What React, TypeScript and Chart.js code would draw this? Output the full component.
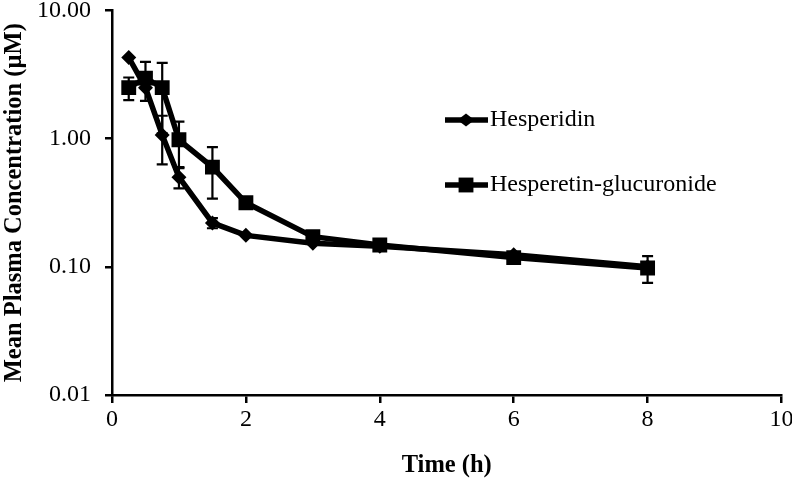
import React, { useEffect, useRef } from "react";
import { Chart, registerables } from "chart.js";

Chart.register(...registerables);

const times = [0.25, 0.5, 0.75, 1, 1.5, 2, 3, 4, 6, 8];
const hesperidin = [4.3, 2.5, 1.07, 0.5, 0.22, 0.176, 0.153, 0.145, 0.124, 0.1];
const hesperidinErr = [0, 0, 0.44, 0.09, 0.02, 0, 0, 0, 0, 0];
const glucuronide = [2.5, 2.97, 2.5, 0.98, 0.6, 0.316, 0.172, 0.148, 0.118, 0.098];
const glucuronideErr = [0.5, 1.0, 1.4, 0.38, 0.26, 0.02, 0.01, 0.01, 0.01, 0.023];
const yTicks = [0.01, 0.1, 1, 10];
const seriesNames = ["Hesperidin", "Hesperetin-glucuronide"];
const xTitle = "Time (h)";
const yTitle = "Mean Plasma Concentration (\u00b5M)";

const SERIF = '"Times New Roman", "Liberation Serif", serif';

const errorBarPlugin = {
  id: "errorBars",
  beforeDatasetsDraw(chart: any) {
    const { ctx } = chart;
    const x = chart.scales.x;
    const y = chart.scales.y;
    const errs = [hesperidinErr, glucuronideErr];
    const vals = [hesperidin, glucuronide];
    ctx.save();
    ctx.strokeStyle = "#000";
    ctx.lineWidth = 2.2;
    errs.forEach((err, di) => {
      err.forEach((e, i) => {
        if (!e) return;
        const px = x.getPixelForValue(times[i]);
        const top = y.getPixelForValue(vals[di][i] + e);
        const bot = y.getPixelForValue(Math.max(vals[di][i] - e, 0.0101));
        ctx.beginPath();
        ctx.moveTo(px, top);
        ctx.lineTo(px, bot);
        ctx.moveTo(px - 5.5, top);
        ctx.lineTo(px + 5.5, top);
        ctx.moveTo(px - 5.5, bot);
        ctx.lineTo(px + 5.5, bot);
        ctx.stroke();
      });
    });
    ctx.restore();
  },
};

const legendPlugin = {
  id: "customLegend",
  afterDraw(chart: any) {
    const { ctx } = chart;
    const rows = [
      { y: 120, style: "rectRot", r: 7.5 },
      { y: 185, style: "rect", r: 10.5 },
    ];
    ctx.save();
    rows.forEach((row, i) => {
      ctx.strokeStyle = "#000";
      ctx.lineWidth = 5.5;
      ctx.beginPath();
      ctx.moveTo(445, row.y);
      ctx.lineTo(488, row.y);
      ctx.stroke();
      ctx.fillStyle = "#000";
      ctx.beginPath();
      if (row.style === "rect") {
        const s = Math.SQRT1_2 * row.r;
        ctx.rect(466 - s, row.y - s, 2 * s, 2 * s);
      } else {
        ctx.moveTo(466, row.y - 6.5);
        ctx.lineTo(466 + 8.5, row.y);
        ctx.lineTo(466, row.y + 6.5);
        ctx.lineTo(466 - 8.5, row.y);
        ctx.closePath();
      }
      ctx.fill();
      ctx.font = `24px ${SERIF}`;
      ctx.textBaseline = "middle";
      ctx.textAlign = "left";
      ctx.fillText(seriesNames[i], 490, row.y);
    });
    ctx.restore();
  },
};

export default function App() {
  const ref = useRef<HTMLCanvasElement>(null);
  useEffect(() => {
    if (!ref.current) return;
    const chart = new Chart(ref.current, {
      type: "line",
      data: {
        datasets: [
          {
            label: seriesNames[0],
            data: times.map((t, i) => ({ x: t, y: hesperidin[i] })),
            borderColor: "#000",
            backgroundColor: "#000",
            borderWidth: 5.5,
            pointStyle: "rectRot",
            pointRadius: 7.5,
            pointBorderWidth: 0,
            order: 1,
          },
          {
            label: seriesNames[1],
            data: times.map((t, i) => ({ x: t, y: glucuronide[i] })),
            borderColor: "#000",
            backgroundColor: "#000",
            borderWidth: 5.5,
            pointStyle: "rect",
            pointRadius: 10.5,
            pointBorderWidth: 0,
            order: 0,
          },
        ],
      },
      options: {
        responsive: false,
        animation: false,
        events: [],
        layout: { padding: { top: 8, right: 10, left: 0, bottom: 0 } },
        plugins: {
          legend: { display: false },
          tooltip: { enabled: false },
        },
        scales: {
          x: {
            type: "linear",
            min: 0,
            max: 10,
            ticks: {
              stepSize: 2,
              color: "#000",
              font: { family: SERIF, size: 24 },
              padding: 2,
            },
            grid: {
              display: true,
              drawOnChartArea: false,
              drawTicks: true,
              tickLength: 8,
              color: "#000",
              lineWidth: 2.5,
            },
            border: { display: true, color: "#000", width: 2.5 },
            title: {
              display: true,
              text: xTitle,
              color: "#000",
              font: { family: SERIF, size: 24.5, weight: "bold" },
              padding: { top: 0, bottom: 2 },
            },
            afterFit(scale: any) {
              scale.height = 87;
              scale.paddingLeft = 0;
              scale.paddingRight = 0;
            },
          },
          y: {
            type: "logarithmic",
            min: 0.01,
            max: 10,
            afterBuildTicks(scale: any) {
              scale.ticks = yTicks.map((v) => ({ value: v }));
            },
            ticks: {
              color: "#000",
              font: { family: SERIF, size: 24 },
              padding: 14,
              callback: (v: any) => Number(v).toFixed(2),
            },
            grid: {
              display: true,
              drawOnChartArea: false,
              drawTicks: true,
              tickLength: 7,
              color: "#000",
              lineWidth: 2.5,
            },
            border: { display: true, color: "#000", width: 2.5 },
            title: {
              display: true,
              text: yTitle,
              color: "#000",
              font: { family: SERIF, size: 24.5, weight: "bold" },
              padding: { top: 0, bottom: 0 },
            },
            afterFit(scale: any) {
              scale.width = 112;
              scale.paddingTop = 0;
              scale.paddingBottom = 0;
            },
          },
        },
      } as any,
      plugins: [errorBarPlugin, legendPlugin],
    });
    return () => chart.destroy();
  }, []);
  return (
    <div style={{ position: "absolute", left: 0, top: 0, width: 792, height: 482, background: "#fff" }}>
      <canvas ref={ref} width={792} height={482} />
    </div>
  );
}
